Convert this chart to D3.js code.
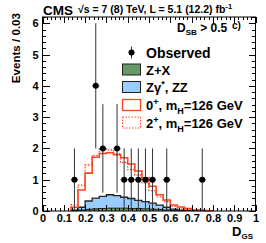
<!DOCTYPE html>
<html>
  <head>
    <meta charset="utf-8">
    <title>D_GS</title>
    <style>
      body { margin: 0; background: #fff; }
      svg { display: block; }
      text { font-family: "Liberation Sans", Arial, sans-serif; font-weight: bold; fill: #000; }
      .axis path { display: none; }
      .axis line { stroke: #000; shape-rendering: crispEdges; }
      .axis text { font-size: 11px; }
    </style>
  </head>
  <body>
    <div class="chart"></div>
    <script src="https://cdn.jsdelivr.net/npm/d3@7/dist/d3.min.js"></script>
    <script>
      // 30 bins between 0 and 1
      const nBins = 30;
      const observed = [0,0,0,0,1,0,0,4,2,0,2,1,1,1,1,1,0,1,0,0,0,0,1,0,0,0,0,0,0,0];
      const zx   = [0,0,0,0,0.01,0.03,0.05,0.07,0.08,0.09,0.09,0.09,0.08,0.08,0.07,0.06,0.05,0.03,0.02,0.01,0,0,0,0,0,0,0,0,0,0];
      const zz   = [0,0,0,0,0.02,0.09,0.27,0.34,0.39,0.43,0.40,0.35,0.32,0.26,0.23,0.19,0.14,0.09,0.04,0.02,0.02,0.01,0,0,0,0,0,0,0,0];
      const sig0 = [0,0,0,0,0.12,0.67,1.21,1.72,1.84,1.86,1.80,1.70,1.50,1.28,1.06,0.79,0.52,0.35,0.19,0.13,0.08,0.04,0.02,0.01,0,0,0,0,0,0];
      const sig2 = [0,0,0,0,0.20,0.83,1.47,1.78,1.97,1.95,1.83,1.55,1.32,1.15,0.90,0.65,0.45,0.30,0.15,0.09,0.05,0.03,0.01,0,0,0,0,0,0,0];
      const xTicks = [0, 0.1, 0.2, 0.3, 0.4, 0.5, 0.6, 0.7, 0.8, 0.9, 1];
      const yTicks = [0, 1, 2, 3, 4, 5, 6];

      const W = 266, H = 243;
      const x = d3.scaleLinear().domain([0, 1]).range([42.5, 255.5]);
      const y = d3.scaleLinear().domain([0, 6.2]).range([211, 17]);
      const edges = d3.range(nBins + 1).map(i => i / nBins);
      const bw = 1 / nBins;

      const svg = d3.select(".chart").append("svg")
        .attr("width", W).attr("height", H);

      // step path for a histogram, from first to last non-zero bin
      function stepPath(vals) {
        const nz = vals.map((v, i) => v > 0 ? i : -1).filter(i => i >= 0);
        const a = nz[0], b = nz[nz.length - 1];
        const pts = [[edges[a], 0]];
        for (let i = a; i <= b; i++) {
          pts.push([edges[i], vals[i]]);
          pts.push([edges[i + 1], vals[i]]);
        }
        pts.push([edges[b + 1], 0]);
        return d3.line().x(d => x(d[0])).y(d => y(d[1]))(pts);
      }

      const tot = zz.map((v, i) => v + zx[i]);

      // backgrounds: ZZ stacked on Z+X
      svg.append("path").attr("d", stepPath(tot))
        .attr("fill", "#99ccff").attr("stroke", "#222").attr("stroke-width", 1.3);
      svg.append("path").attr("d", stepPath(zx))
        .attr("fill", "#669966").attr("stroke", "#222").attr("stroke-width", 1);

      // signal hypotheses
      svg.append("path").attr("d", stepPath(sig2))
        .attr("fill", "none").attr("stroke", "#ff4422").attr("stroke-width", 1.3)
        .attr("stroke-dasharray", "1.5,1.5");
      svg.append("path").attr("d", stepPath(sig0))
        .attr("fill", "none").attr("stroke", "#ff4422").attr("stroke-width", 1.6);

      // axes, ticks inside the frame
      function minor(step, lo, hi) { return d3.range(lo, hi + 1e-9, step); }
      svg.append("g").attr("class", "axis").attr("transform", "translate(0,211)")
        .call(d3.axisBottom(x).tickValues(xTicks).tickSize(-6).tickPadding(3)
          .tickFormat(d => d === 0 || d === 1 ? d3.format("d")(d) : d3.format(".1f")(d)));
      svg.append("g").attr("class", "axis").attr("transform", "translate(0,211)")
        .call(d3.axisBottom(x).tickValues(minor(0.02, 0, 1)).tickSize(-3).tickFormat(""));
      svg.append("g").attr("class", "axis").attr("transform", "translate(0,17)")
        .call(d3.axisTop(x).tickValues(xTicks).tickSize(-6).tickFormat(""));
      svg.append("g").attr("class", "axis").attr("transform", "translate(0,17)")
        .call(d3.axisTop(x).tickValues(minor(0.02, 0, 1)).tickSize(-3).tickFormat(""));
      svg.append("g").attr("class", "axis").attr("transform", "translate(42.5,0)")
        .call(d3.axisLeft(y).tickValues(yTicks).tickSize(-7).tickPadding(4).tickFormat(d3.format("d")));
      svg.append("g").attr("class", "axis").attr("transform", "translate(42.5,0)")
        .call(d3.axisLeft(y).tickValues(minor(0.2, 0, 6.2)).tickSize(-3.5).tickFormat(""));
      svg.append("g").attr("class", "axis").attr("transform", "translate(255.5,0)")
        .call(d3.axisRight(y).tickValues(yTicks).tickSize(-7).tickFormat(""));
      svg.append("g").attr("class", "axis").attr("transform", "translate(255.5,0)")
        .call(d3.axisRight(y).tickValues(minor(0.2, 0, 6.2)).tickSize(-3.5).tickFormat(""));

      // frame
      svg.append("rect").attr("x", x(0)).attr("y", y(6.2))
        .attr("width", x(1) - x(0)).attr("height", y(0) - y(6.2))
        .attr("fill", "none").attr("stroke", "#000").attr("stroke-width", 1);

      // observed points with sqrt(N) errors
      const obs = observed.map((n, i) => ({ c: (i + 0.5) * bw, n })).filter(d => d.n > 0);
      const g = svg.append("g");
      g.selectAll(".ev").data(obs).enter().append("line")
        .attr("x1", d => x(d.c)).attr("x2", d => x(d.c))
        .attr("y1", d => y(Math.max(0, d.n - Math.sqrt(d.n))))
        .attr("y2", d => y(d.n + Math.sqrt(d.n)))
        .attr("stroke", "#333").attr("stroke-width", 1);
      g.selectAll(".eh").data(obs).enter().append("line")
        .attr("x1", d => x(d.c - bw / 2)).attr("x2", d => x(d.c + bw / 2))
        .attr("y1", d => y(d.n)).attr("y2", d => y(d.n))
        .attr("stroke", "#333").attr("stroke-width", 1);
      g.selectAll(".dot").data(obs).enter().append("circle")
        .attr("cx", d => x(d.c)).attr("cy", d => y(d.n)).attr("r", 3)
        .attr("fill", "#000");

      // legend
      const lg = svg.append("g");
      const rows = [52.5, 69.5, 87, 105, 122.5];
      lg.append("line").attr("x1", 131.5).attr("x2", 131.5).attr("y1", rows[0] - 6).attr("y2", rows[0] + 6)
        .attr("stroke", "#333");
      lg.append("circle").attr("cx", 131.5).attr("cy", rows[0]).attr("r", 3).attr("fill", "#000");
      lg.append("rect").attr("x", 122.5).attr("y", rows[1] - 5.5).attr("width", 18).attr("height", 11)
        .attr("fill", "#669966").attr("stroke", "#222");
      lg.append("rect").attr("x", 122.5).attr("y", rows[2] - 5.5).attr("width", 18).attr("height", 11)
        .attr("fill", "#99ccff").attr("stroke", "#222");
      lg.append("rect").attr("x", 122.5).attr("y", rows[3] - 5.5).attr("width", 18).attr("height", 11)
        .attr("fill", "#fff").attr("stroke", "#ff4422").attr("stroke-width", 1.3);
      lg.append("rect").attr("x", 122.5).attr("y", rows[4] - 5.5).attr("width", 18).attr("height", 11)
        .attr("fill", "#fff").attr("stroke", "#ff4422").attr("stroke-width", 1)
        .attr("stroke-dasharray", "1.5,1.5");

      const fs = 13;
      lg.append("text").attr("x", 146).attr("y", rows[0] + 5).style("font-size", "14px").text("Observed");
      lg.append("text").attr("x", 146).attr("y", rows[1] + 5).style("font-size", fs + "px").text("Z+X");
      const t2 = lg.append("text").attr("x", 146).attr("y", rows[2] + 5).style("font-size", fs + "px");
      t2.append("tspan").text("Zγ");
      t2.append("tspan").attr("dy", -5).style("font-size", "9px").text("*");
      t2.append("tspan").attr("dy", 5).text(", ZZ");
      [[3, "0"], [4, "2"]].forEach(([r, s]) => {
        const t = lg.append("text").attr("x", 146).attr("y", rows[r] + 5).style("font-size", fs + "px");
        t.append("tspan").text(s);
        t.append("tspan").attr("dy", -5).style("font-size", "9px").text("+");
        t.append("tspan").attr("dy", 5).text(", m");
        t.append("tspan").attr("dy", 4).style("font-size", "9px").text("H");
        t.append("tspan").attr("dy", -4).text("=126 GeV");
      });

      // header
      svg.append("text").attr("x", 43).attr("y", 15).style("font-size", "13.5px").text("CMS");
      const hdr = svg.append("text").attr("x", 78).attr("y", 13).style("font-size", "10.5px");
      hdr.append("tspan").text("\u221As = 7 (8) TeV, L = 5.1 (12.2) fb");
      hdr.append("tspan").attr("dy", -4).style("font-size", "7.5px").text("-1");

      const dsb = svg.append("text").attr("x", 177).attr("y", 32).style("font-size", "12px");
      dsb.append("tspan").text("D");
      dsb.append("tspan").attr("dy", 3).style("font-size", "8px").text("SB");
      dsb.append("tspan").attr("dy", -3).text(" > 0.5");
      svg.append("text").attr("x", 232).attr("y", 29).style("font-size", "10px").text("c)");

      // axis titles
      svg.append("text").attr("transform", "translate(20,13) rotate(-90)")
        .attr("text-anchor", "end").style("font-size", "11.6px").text("Events / 0.03");
      const xt = svg.append("text").attr("x", 253).attr("y", 236).attr("text-anchor", "end")
        .style("font-size", "13px");
      xt.append("tspan").text("D");
      xt.append("tspan").attr("dy", 3).style("font-size", "8px").text("GS");
    </script>
  </body>
</html>
